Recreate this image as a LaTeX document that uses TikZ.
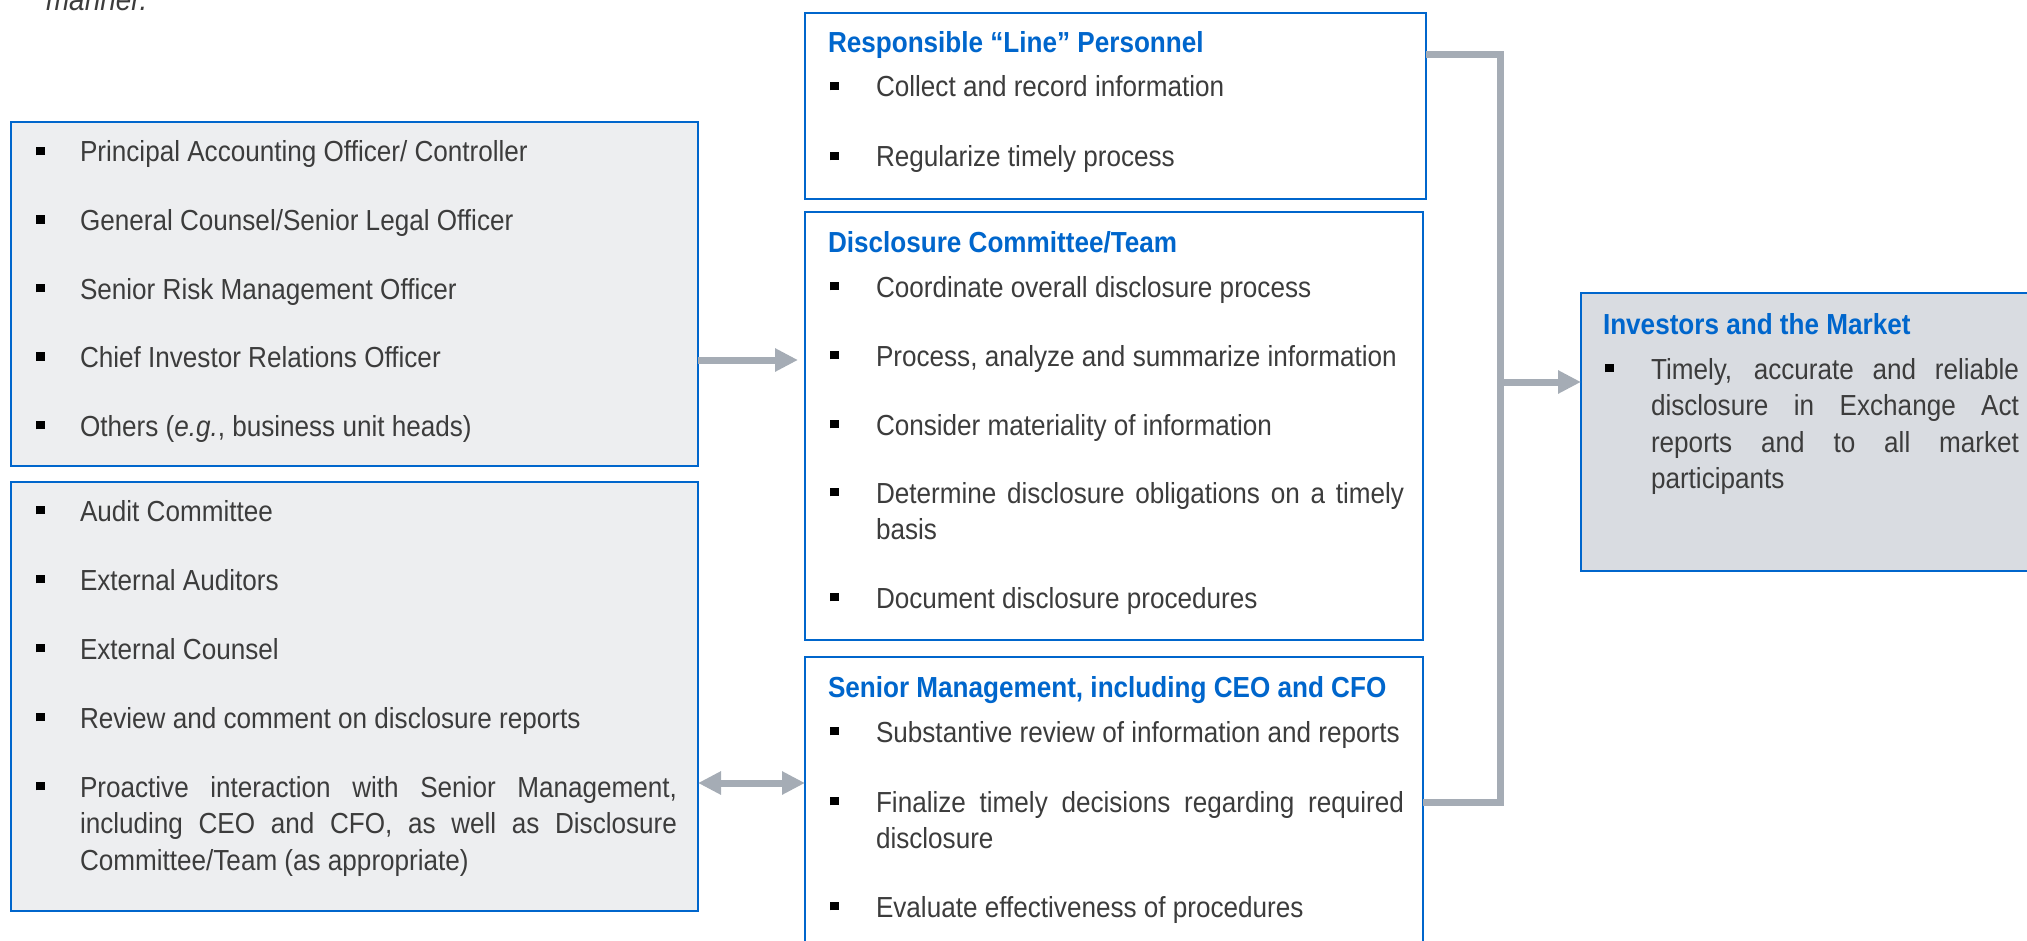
\documentclass[tikz,border=0pt]{standalone}
\usepackage{fontspec}
\setmainfont{Liberation Sans}[FakeStretch=0.9]
\usetikzlibrary{arrows.meta,fit}

\definecolor{boxblue}{RGB}{0,102,204}
\definecolor{paleGray}{RGB}{237,238,240}
\definecolor{midGray}{RGB}{217,220,225}
\definecolor{linkGray}{RGB}{165,172,181}
\definecolor{bodyText}{RGB}{60,60,60}

% square bullet and a hanging-indent list entry
\newcommand\sqbullet{\raisebox{3.3pt}{\color{black}\rule{4.4pt}{4.4pt}}}
\newcommand\itm[2]{\hangindent=#1\hangafter=1\noindent\makebox[#1][l]{\sqbullet}#2\par}

\begin{document}
\begin{tikzpicture}[x=0.5pt,y=-0.5pt,
  every node/.style={inner sep=0pt, outer sep=0pt},
  panel/.style={draw=boxblue, line width=1.3pt, inner sep=0pt},
  heading/.style={anchor=base west, font=\fontsize{14.5}{18.25}\selectfont\bfseries, text=boxblue},
  entry/.style={anchor=base west, font=\fontsize{14.5}{18.25}\selectfont, text=bodyText, align=justify},
  link/.style={draw=linkGray, line width=3.5pt, line join=miter},
  tip/.style={-{Triangle[length=11.5pt,width=11pt]}},
  twotip/.style={{Triangle[length=11.5pt,width=11pt]}-{Triangle[length=11.5pt,width=11pt]}}
]
\useasboundingbox (0,0) rectangle (2027,941);
\clip (0,0) rectangle (2027,941);

% trailing words of the caption above
\node[anchor=base west, font=\fontsize{15.5}{19}\selectfont\itshape, text=bodyText] (tail) at (46,11) {manner.};

% panels
\node[panel, fill=paleGray, fit={(11,122) (698,466)}] (officers) {};
\node[panel, fill=paleGray, fit={(11,482) (698,911)}] (advisers) {};
\node[panel, fill=white, fit={(805,13) (1426,199)}] (line) {};
\node[panel, fill=white, fit={(805,212) (1423,640)}] (committee) {};
\node[panel, fill=white, fit={(805,657) (1423,970)}] (mgmt) {};
\node[panel, fill=midGray, fit={(1581,293) (2050,571)}] (market) {};

% officers
\node[entry, text width=320.5pt] (o1) at (36,162) {\itm{22pt}{Principal Accounting Officer/ Controller}};
\node[entry, text width=320.5pt] (o2) at (36,230.5) {\itm{22pt}{General Counsel/Senior Legal Officer}};
\node[entry, text width=320.5pt] (o3) at (36,299) {\itm{22pt}{Senior Risk Management Officer}};
\node[entry, text width=320.5pt] (o4) at (36,367.5) {\itm{22pt}{Chief Investor Relations Officer}};
\node[entry, text width=320.5pt] (o5) at (36,436) {\itm{22pt}{Others (\textit{e.g.}, business unit heads)}};

% advisers
\node[entry, text width=320.5pt] (a1) at (36,521) {\itm{22pt}{Audit Committee}};
\node[entry, text width=320.5pt] (a2) at (36,590) {\itm{22pt}{External Auditors}};
\node[entry, text width=320.5pt] (a3) at (36,659) {\itm{22pt}{External Counsel}};
\node[entry, text width=320.5pt] (a4) at (36,728) {\itm{22pt}{Review and comment on disclosure reports}};
\node[entry, text width=320.5pt] (a5) at (36,797) {\itm{22pt}{Proactive interaction with Senior Management,\linebreak including CEO and CFO, as well as Disclosure\linebreak Committee/Team (as appropriate)}};

% responsible line personnel
\node[heading] (lineT) at (828,53) {Responsible “Line” Personnel};
\node[entry, text width=287pt] (l1) at (830,97) {\itm{23pt}{Collect and record information}};
\node[entry, text width=287pt] (l2) at (830,167) {\itm{23pt}{Regularize timely process}};

% disclosure committee
\node[heading] (comT) at (828,252) {Disclosure Committee/Team};
\node[entry, text width=287pt] (c1) at (830,297) {\itm{23pt}{Coordinate overall disclosure process}};
\node[entry, text width=287pt] (c2) at (830,366) {\itm{23pt}{Process, analyze and summarize information}};
\node[entry, text width=287pt] (c3) at (830,435) {\itm{23pt}{Consider materiality of information}};
\node[entry, text width=287pt] (c4) at (830,503) {\itm{23pt}{Determine disclosure obligations on a timely\linebreak basis}};
\node[entry, text width=287pt] (c5) at (830,608) {\itm{23pt}{Document disclosure procedures}};

% senior management
\node[heading] (mgmtT) at (828,697) {Senior Management, including CEO and CFO};
\node[entry, text width=287pt] (m1) at (830,742) {\itm{23pt}{Substantive review of information and reports}};
\node[entry, text width=287pt] (m2) at (830,812) {\itm{23pt}{Finalize timely decisions regarding required\linebreak disclosure}};
\node[entry, text width=287pt] (m3) at (830,917) {\itm{23pt}{Evaluate effectiveness of procedures}};

% investors and the market
\node[heading] (mktT) at (1603,334) {Investors and the Market};
\node[entry, text width=207pt] (k1) at (1605,379) {\itm{23pt}{Timely, accurate and reliable\linebreak disclosure in Exchange Act\linebreak reports and to all market\linebreak participants}};

% connectors
\coordinate (inY) at (0,360);
\coordinate (bothY) at (0,783);
\coordinate (jTop) at (1500,55);
\coordinate (jMid) at (1500,382);
\coordinate (jBot) at (1500,802);

\draw[link, tip, shorten >=3.5pt] (officers.east |- inY) -- (committee.west |- inY);
\draw[link, twotip] (advisers.east |- bothY) -- (mgmt.west |- bothY);
\draw[link] (line.east |- jTop) -- (jTop) -- (jBot) -- (mgmt.east |- jBot);
\draw[link, tip] (jMid) -- (market.west |- jMid);
\end{tikzpicture}
\end{document}
